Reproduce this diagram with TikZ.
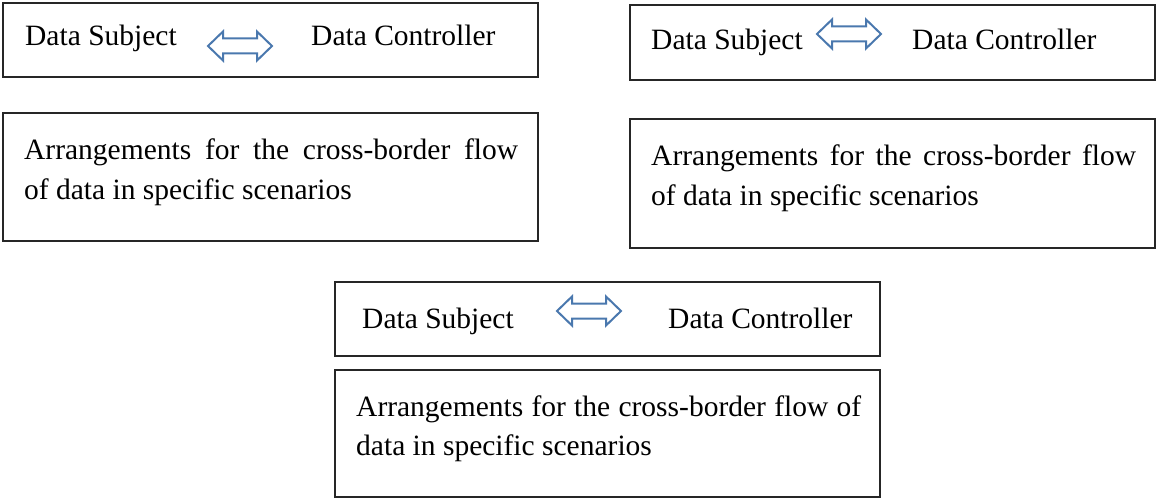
\documentclass[tikz,border=0pt]{standalone}
\usepackage{fontspec}
\setmainfont{Liberation Serif}
\begin{document}
\begin{tikzpicture}[x=1pt,y=-1pt,
  box/.style={draw=black!85,line width=1.4pt},
  txt/.style={anchor=base west,inner sep=0pt,font=\fontsize{29.5}{39}\selectfont},
  arrowline/.style={draw=arrowblue,line width=2pt,fill=white,line join=miter},
  dblarrow/.pic={\draw[arrowline] (-32,0) -- (-17,-14.5) -- (-17,-7.5) -- (17,-7.5) -- (17,-14.5) -- (32,0) -- (17,14.5) -- (17,7.5) -- (-17,7.5) -- (-17,14.5) -- cycle;}]
\definecolor{arrowblue}{HTML}{4A78AE}
\useasboundingbox (0,0) rectangle (1157,500);
% boxes
\draw[box] (3,3) rectangle (538,77);
\draw[box] (3,113) rectangle (538,241);
\draw[box] (630,5) rectangle (1155,80);
\draw[box] (630,119) rectangle (1155,248);
\draw[box] (335,282) rectangle (880,356);
\draw[box] (335,370) rectangle (880,497);
% top-left
\node[txt] (s1) at (25,46) {Data Subject};
\node[txt] (c1) at (311,46) {Data Controller};
\pic at (240,46) {dblarrow};
\node[txt] (a1) at (24,160) {\makebox[494pt][s]{Arrangements for the cross-border flow}};
\node[txt] (b1) at (24,199) {of data in specific scenarios};
% top-right
\node[txt] (s2) at (651,50) {Data Subject};
\node[txt] (c2) at (912,50) {Data Controller};
\pic at (849,34) {dblarrow};
\node[txt] (a2) at (651,166) {\makebox[485pt][s]{Arrangements for the cross-border flow}};
\node[txt] (b2) at (651,205) {of data in specific scenarios};
% bottom
\node[txt] (s3) at (362,328) {Data Subject};
\node[txt] (c3) at (668,328) {Data Controller};
\pic at (589,311) {dblarrow};
\node[txt] (a3) at (356,416) {\makebox[505pt][s]{Arrangements for the cross-border flow of}};
\node[txt] (b3) at (356,455) {data in specific scenarios};
\end{tikzpicture}
\end{document}
